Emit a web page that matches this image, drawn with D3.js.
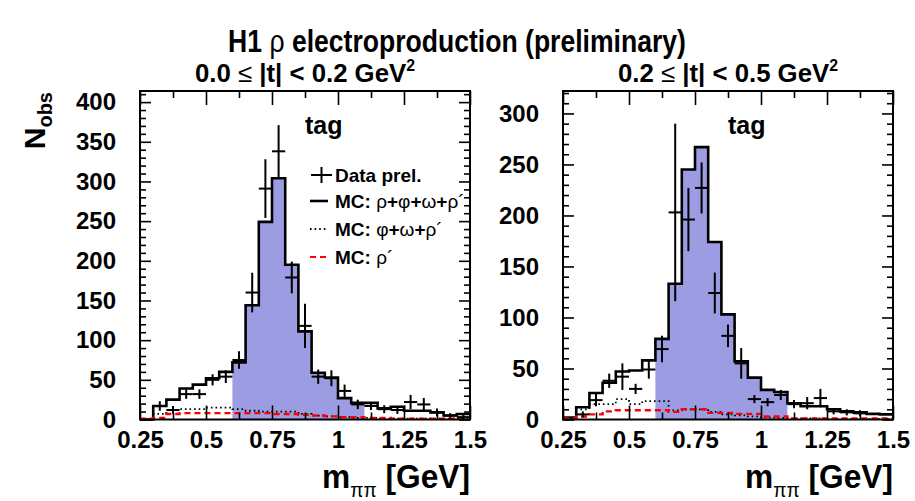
<!DOCTYPE html>
<html>
<head>
<meta charset="utf-8">
<script src="https://cdn.jsdelivr.net/npm/d3@7"></script>
<style>
  body { margin: 0; background: #fff; }
  svg { display: block; }
  text { font-family: "Liberation Sans", Arial, Helvetica, sans-serif; font-weight: bold; }
</style>
</head>
<body>
<div id="chart"></div>
<script>
// m_pipi bins (GeV)
const binEdges = [0.25, 0.30, 0.35, 0.40, 0.45, 0.50, 0.55, 0.60, 0.65, 0.70, 0.75, 0.80, 0.85,
  0.90, 0.95, 1.00, 1.05, 1.10, 1.15, 1.20, 1.25, 1.30, 1.35, 1.40, 1.45, 1.50];
const xTickLabels = [0.25, 0.5, 0.75, 1, 1.25, 1.5];
const xMinorTicks = [0.375, 0.625, 0.875, 1.125, 1.375];
const signalWindow = [0.6, 1.1];

// 0.0 <= |t| < 0.2
const yTicksLowT = [0, 50, 100, 150, 200, 250, 300, 350, 400];
const mcLowT = [0, 17, 25, 39, 44, 52, 60, 72, 144, 249, 304, 195, 111, 59, 53, 27, 21, 21, 14, 16, 11, 11, 9, 5, 7];
const bgLowT = [0, 7, 12, 13, 13, 15, 15, 13, 11, 10, 10, 10, 7, 5, 4, 3, 2, 2, 1, 1, 1, 1, 1, 1, 1];
const rhoPrimeLowT = [1, 2, 7, 8, 8, 8, 8, 8, 8, 8, 7, 7, 6, 5, 4, 3, 3, 2, 2, 1, 1, 1, 1, 1, 1];
const dataLowT = [null, 17, 12, 32, 32, 50, 54, 75, 160, 291, 338, 179, 118, 54, 52, 36, 19, 17, 13, 12, 22, 19, 9, 5, 3];
const errLowT = [0, 6, 5, 6, 6, 7, 8, 11, 25, 37, 33, 20, 28, 9, 10, 8, 6, 5, 5, 5, 9, 8, 5, 3, 3];

// 0.2 <= |t| < 0.5
const yTicksHighT = [0, 50, 100, 150, 200, 250, 300];
const mcHighT = [2, 12, 26, 36, 47, 48, 58, 79, 133, 245, 267, 174, 103, 57, 41, 29, 27, 16, 13, 13, 10, 8, 7, 5.5, 5];
const bgHighT = [0, 10, 15, 15, 20, 15, 18, 18, 9, 10, 10, 7.5, 5, 4, 3, 2, 1.5, 1, 1, 1, 0.5, 0.5, 0.5, 0.5, 0.5];
const rhoPrimeHighT = [1, 3, 5, 8, 9, 9, 9, 9, 7.5, 10, 10, 6.5, 6.5, 5.5, 5.5, 3, 3, 1, 1, 1, 1, 1, 1, 1, 1];
const dataHighT = [null, 5, 19, 38, 42, 30, 49, 69, 203, 196, 227, 124, 82, 55, 20, 17, 24, 15, 16, 21, 8, 7, 6, null, null];
const errHighT = [0, 3, 6, 7, 13, 5, 9, 13, 87, 31, 25, 20, 11, 15, 4, 4, 5, 4, 6, 9, 3, 3, 3, 0, 0];

const width = 915, height = 501;
const frameTop = 91, frameBottom = 419.5, frameW = 330;

const svg = d3.select("#chart").append("svg")
  .attr("width", width)
  .attr("height", height);

// squeeze a text horizontally to a given width (the original fonts are condensed)
function fitWidth(text, x, y, w, anchor) {
  const len = text.node().getComputedTextLength();
  const s = Math.min(1, w / len);
  text.attr("x", null).attr("y", null)
    .attr("text-anchor", anchor)
    .attr("transform", `translate(${x},${y}) scale(${s},1)`);
}

const title = svg.append("text").attr("font-size", 31);
title.append("tspan").text("H1 ");
title.append("tspan").attr("font-weight", "normal").text("ρ");
title.append("tspan").text(" electroproduction (preliminary)");
fitWidth(title, 457, 52, 458, "middle");

// y title
const yTitle = svg.append("text")
  .attr("transform", "translate(45,92) rotate(-90)")
  .attr("text-anchor", "end")
  .attr("font-size", 30);
yTitle.append("tspan").text("N");
yTitle.append("tspan").attr("font-size", 20).attr("dy", 7).text("obs");

function drawPanel(p) {
  const x = d3.scaleLinear().domain([0.25, 1.5]).range([p.left, p.left + frameW]);
  const y = d3.scaleLinear().domain([0, p.yMax]).range([frameBottom, frameTop]);
  const g = svg.append("g");

  const bins = binEdges.slice(0, -1).map((lo, i) => ({
    lo, hi: binEdges[i + 1], mid: (lo + binEdges[i + 1]) / 2,
    mc: p.mc[i], bg: p.bg[i], rp: p.rp[i], data: p.data[i], err: p.err[i]
  }));
  const last = bins[bins.length - 1];
  const stepPts = key => bins.map(b => [b.lo, b[key]]).concat([[last.hi, last[key]]]);
  const line = d3.line().x(d => x(d[0])).y(d => y(d[1])).curve(d3.curveStepAfter);

  // shaded rho signal window
  const win = bins.filter(b => b.lo >= signalWindow[0] - 1e-9 && b.hi <= signalWindow[1] + 1e-9);
  const winLast = win[win.length - 1];
  const winPts = win.map(b => [b.lo, b.mc]).concat([[winLast.hi, winLast.mc]]);
  g.append("path")
    .attr("d", d3.area().x(d => x(d[0])).y0(y(0)).y1(d => y(d[1])).curve(d3.curveStepAfter)(winPts))
    .attr("fill", "#9c9ce3");

  g.append("path").attr("d", line(stepPts("mc")))
    .attr("fill", "none").attr("stroke", "#000").attr("stroke-width", 2.6);
  g.append("path").attr("d", line(stepPts("bg")))
    .attr("fill", "none").attr("stroke", "#000").attr("stroke-width", 1.8)
    .attr("stroke-dasharray", "1.6,3");
  g.append("path").attr("d", line(stepPts("rp")))
    .attr("fill", "none").attr("stroke", "#f00").attr("stroke-width", 2.4)
    .attr("stroke-dasharray", "6,4");

  // data points with errors
  const pts = g.selectAll(".pt").data(bins.filter(b => b.data != null))
    .enter().append("g").attr("class", "pt")
    .attr("stroke", "#000").attr("stroke-width", 2);
  pts.append("line")
    .attr("x1", d => x(d.lo)).attr("x2", d => x(d.hi))
    .attr("y1", d => y(d.data)).attr("y2", d => y(d.data));
  pts.append("line")
    .attr("x1", d => x(d.mid)).attr("x2", d => x(d.mid))
    .attr("y1", d => y(Math.max(0, d.data - d.err))).attr("y2", d => y(d.data + d.err));

  // axes
  const style = sel => {
    sel.select(".domain").remove();
    sel.attr("font-size", 24).attr("font-family", null);
    sel.selectAll(".tick line").attr("stroke-width", 1.6);
  };
  const yMinor = d3.range(0, p.yMax, 10).filter(v => !p.yTicks.includes(v));

  g.append("g").attr("transform", `translate(0,${frameBottom})`)
    .call(d3.axisBottom(x).tickValues(xTickLabels).tickSize(-14).tickPadding(11).tickFormat(d => String(d)))
    .call(style);
  g.append("g").attr("transform", `translate(0,${frameBottom})`)
    .call(d3.axisBottom(x).tickValues(xMinorTicks).tickSize(-7).tickFormat(""))
    .call(style);
  g.append("g").attr("transform", `translate(0,${frameTop})`)
    .call(d3.axisTop(x).tickValues(xTickLabels).tickSize(-14).tickFormat(""))
    .call(style);
  g.append("g").attr("transform", `translate(0,${frameTop})`)
    .call(d3.axisTop(x).tickValues(xMinorTicks).tickSize(-7).tickFormat(""))
    .call(style);
  g.append("g").attr("transform", `translate(${p.left},0)`)
    .call(d3.axisLeft(y).tickValues(p.yTicks).tickSize(-11).tickPadding(24))
    .call(style);
  g.append("g").attr("transform", `translate(${p.left},0)`)
    .call(d3.axisLeft(y).tickValues(yMinor).tickSize(-6).tickFormat(""))
    .call(style);
  g.append("g").attr("transform", `translate(${p.left + frameW},0)`)
    .call(d3.axisRight(y).tickValues(p.yTicks).tickSize(-11).tickFormat(""))
    .call(style);
  g.append("g").attr("transform", `translate(${p.left + frameW},0)`)
    .call(d3.axisRight(y).tickValues(yMinor).tickSize(-6).tickFormat(""))
    .call(style);

  g.append("rect")
    .attr("x", p.left).attr("y", frameTop)
    .attr("width", frameW).attr("height", frameBottom - frameTop)
    .attr("fill", "none").attr("stroke", "#000").attr("stroke-width", 2);

  // panel title
  const t = g.append("text").attr("font-size", 26);
  t.append("tspan").text(p.label[0]);
  t.append("tspan").attr("font-weight", "normal").text(" ≤ ");
  t.append("tspan").text(p.label[1]);
  t.append("tspan").attr("font-size", 16).attr("dy", -11).text("2");
  fitWidth(t, p.left + frameW / 2, 82, 220, "middle");

  g.append("text")
    .attr("x", p.left + 165).attr("y", 134)
    .attr("font-size", 25).text("tag");

  // x title
  const xt = g.append("text").attr("font-size", 33);
  xt.append("tspan").text("m");
  xt.append("tspan").attr("font-size", 20).attr("font-weight", "normal").attr("dy", 9).text("ππ");
  xt.append("tspan").attr("dy", -9).text(" [GeV]");
  fitWidth(xt, p.left + frameW, 488, 148, "end");

  return { x, y, g };
}

drawPanel({
  left: 140, yMax: 414, yTicks: yTicksLowT,
  mc: mcLowT, bg: bgLowT, rp: rhoPrimeLowT, data: dataLowT, err: errLowT,
  label: ["0.0", "|t| < 0.2 GeV"]
});
drawPanel({
  left: 563, yMax: 322, yTicks: yTicksHighT,
  mc: mcHighT, bg: bgHighT, rp: rhoPrimeHighT, data: dataHighT, err: errHighT,
  label: ["0.2", "|t| < 0.5 GeV"]
});

// legend
const legendRows = [
  { y: 175, kind: "cross", parts: [["Data prel.", "bold"]] },
  { y: 201, kind: "solid", parts: [["MC: ", "bold"], ["ρ", "normal"], ["+", "bold"], ["φ", "normal"], ["+", "bold"], ["ω", "normal"], ["+", "bold"], ["ρ´", "normal"]] },
  { y: 229, kind: "dotted", parts: [["MC: ", "bold"], ["φ", "normal"], ["+", "bold"], ["ω", "normal"], ["+", "bold"], ["ρ´", "normal"]] },
  { y: 257, kind: "dashed", parts: [["MC: ", "bold"], ["ρ´", "normal"]] }
];
const lg = svg.append("g");
legendRows.forEach(r => {
  if (r.kind === "cross") {
    lg.append("line").attr("x1", 311).attr("x2", 332).attr("y1", r.y).attr("y2", r.y).attr("stroke", "#000").attr("stroke-width", 2);
    lg.append("line").attr("x1", 321.5).attr("x2", 321.5).attr("y1", r.y - 8).attr("y2", r.y + 8).attr("stroke", "#000").attr("stroke-width", 2);
  } else {
    lg.append("line").attr("x1", 310).attr("x2", 328).attr("y1", r.y).attr("y2", r.y)
      .attr("stroke", r.kind === "dashed" ? "#f00" : "#000")
      .attr("stroke-width", r.kind === "solid" ? 2.6 : 2)
      .attr("stroke-dasharray", r.kind === "dotted" ? "1.6,3" : r.kind === "dashed" ? "6,4" : null);
  }
  const tx = lg.append("text").attr("x", 335).attr("y", r.y + 7).attr("font-size", 19);
  r.parts.forEach(([s, w]) => tx.append("tspan").attr("font-weight", w).text(s));
});
</script>
</body>
</html>
